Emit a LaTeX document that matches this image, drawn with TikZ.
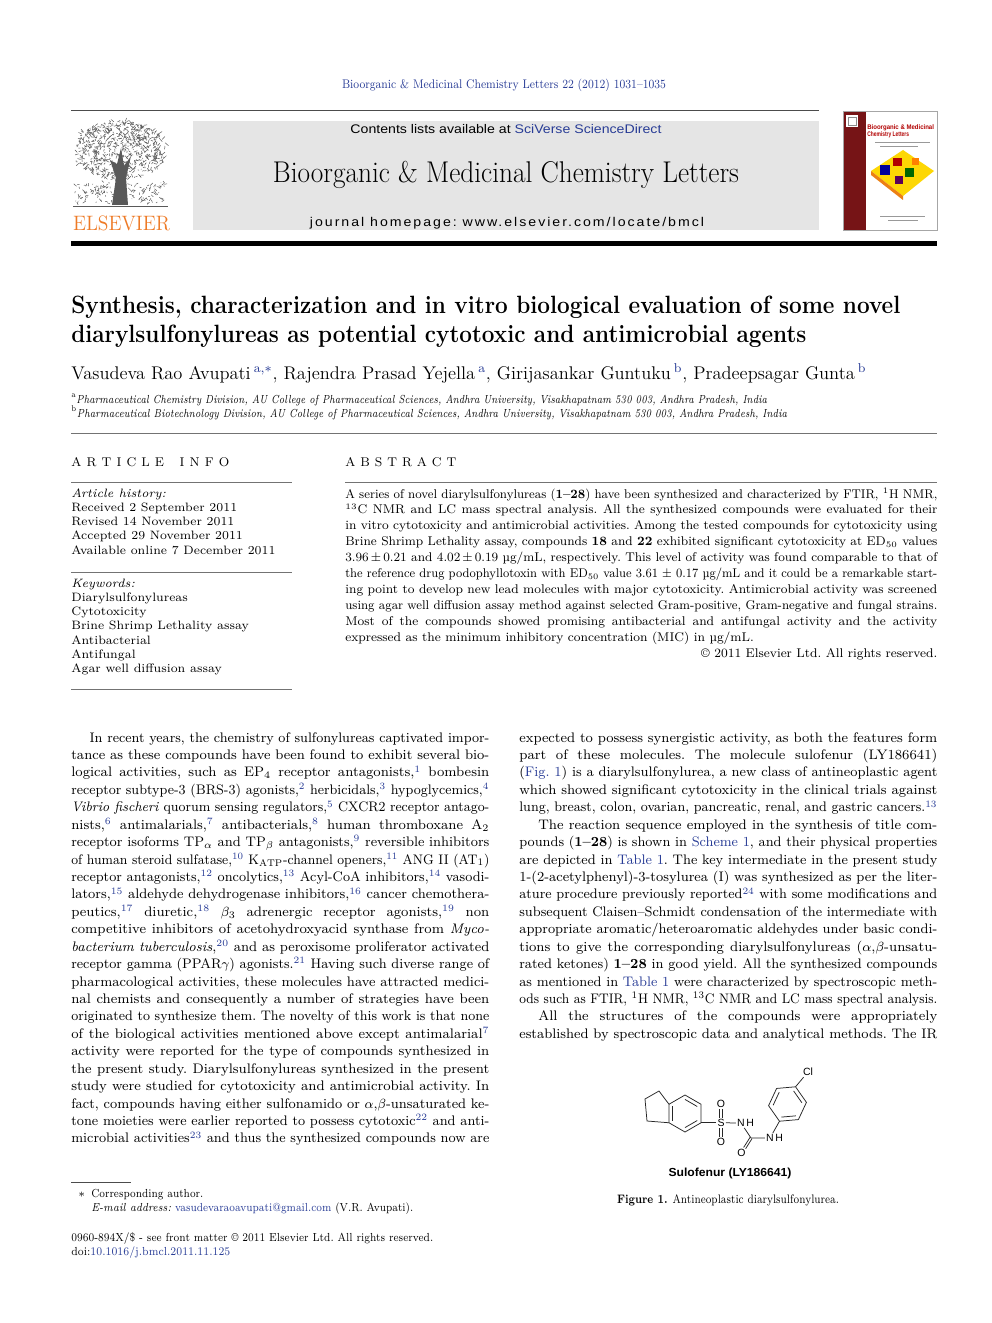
\documentclass[tikz,border=0pt]{standalone}
\usepackage{fontspec}
\usepackage{graphicx}
\usetikzlibrary{calc}
\newfontfamily\sansf{Liberation Sans}
\newfontfamily\hpfont[LetterSpace=14]{Liberation Sans}
\definecolor{linkblue}{RGB}{40,60,150}
\definecolor{elsorange}{RGB}{238,122,38}
\definecolor{boxgray}{RGB}{229,229,229}
\definecolor{coverred}{RGB}{118,20,22}
\newsavebox\linebox
\newcommand\fitline[2]{\resizebox{#1}{\height}{#2}}
\newcommand\jline[1]{\sbox\linebox{#1}%
	\ifdim\wd\linebox>\hsize \hbox{\resizebox{\hsize}{\height}{\usebox\linebox}}%
	\else\hbox to\hsize{#1}\fi}
\newcommand\lline[1]{\hbox to\hsize{#1\hfil}}
\newcommand\rf[1]{\textsuperscript{\textcolor{linkblue}{#1}}}
\newcommand\lnk[1]{\textcolor{linkblue}{#1}}

\tikzset{
  txt/.style={inner sep=0pt, anchor=base west},
  ctxt/.style={inner sep=0pt, anchor=base},
  rule/.style={line width=0.5pt, black!55},
  treeline/.style={line width=0.3pt, black!65},
  bond/.style={line width=0.45pt, black!85},
  atom/.style={inner sep=0.6pt, font=\sansf\fontsize{6.3}{7}\selectfont},
}

\begin{document}
\frenchspacing
\begin{tikzpicture}[x=0.6pt,y=-0.6pt]
	\useasboundingbox (0,0) rectangle (992,1323);
	\fill[white] (0,0) rectangle (992,1323);
	
	%journal line
	\node[ctxt, text=linkblue] (jref) at (504,89) {\fitline{194.4pt}{\fontsize{7.5}{9}\selectfont Bioorganic \& Medicinal Chemistry Letters 22 (2012) 1031--1035}};
	\draw[line width=0.6pt, black!70] (71,111) -- (819,111);
	
	%header box
	\fill[boxgray] (193,121) rectangle (819,230);
	\node[ctxt] (contents) at (506,134) {\fitline{186.6pt}{\sansf\fontsize{7.5}{9}\selectfont Contents lists available at \lnk{SciVerse ScienceDirect}}};
	\node[ctxt] (jname) at (506,182) {\fitline{279.6pt}{\fontsize{18}{20}\selectfont Bioorganic \& Medicinal Chemistry Letters}};
	\node[ctxt] (homepage) at (507,226) {\fitline{236.4pt}{\hpfont\fontsize{7.6}{9}\selectfont journal homepage: www.elsevier.com/locate/bmcl}};
	
	%elsevier tree
	\pgfmathsetseed{12}
	\foreach \i in {1,...,700}{
		\pgfmathsetmacro\ta{rnd*360}
		\pgfmathsetmacro\tr{sqrt(rnd)}
		\draw[treeline] ({120+47*\tr*cos(\ta)},{150+29*\tr*sin(\ta)}) -- ++({rand*3.5},{rand*3.5});
	}
	\foreach \i in {1,...,160}{
		\draw[treeline] ({75+90*rnd},{182+22*rnd}) -- ++({rand*3},{rand*3});
	}
	\fill[black!65] (112,205) -- (116,178) -- (110,160) -- (117,164) -- (121,148) -- (124,166) -- (131,156) -- (126,178) -- (128,205) -- cycle;
	\draw[treeline, line width=0.5pt] (73,206) -- (168,206);
	\node[ctxt, text=elsorange] (elsevier) at (121.5,230) {\fitline{58.2pt}{\fontsize{12.5}{13}\selectfont ELSEVIER}};
	
	%cover
	\fill[coverred] (843,111) rectangle (866,230);
	\draw[black!35, line width=0.4pt] (843,111) rectangle (937,230);
	\fill[white] (846,115) rectangle (858,127);
	\draw[black!45, line width=0.3pt] (848,117) rectangle (856,125);
	\node[txt, text=red!70!black] (covt1) at (867,130) {\fitline{40pt}{\sansf\bfseries\fontsize{4}{5}\selectfont Bioorganic \& Medicinal}};
	\node[txt, text=red!70!black] (covt2) at (867,137) {\fitline{25pt}{\sansf\bfseries\fontsize{4}{5}\selectfont Chemistry Letters}};
	\draw[black!40, line width=0.3pt] (875,142) -- (930,142) (880,146) -- (918,146);
	\fill[yellow!75!orange] (871,171) -- (903,150) -- (934,171) -- (903,196) -- cycle;
	\fill[orange!70!brown] (871,171) -- (903,196) -- (903,200) -- (871,175) -- cycle;
	\fill[blue!60!black] (880,165) rectangle (890,175);
	\fill[red!70!black] (893,158) rectangle (902,166);
	\fill[green!40!black] (905,168) rectangle (914,177);
	\fill[violet!70!black] (895,176) rectangle (903,184);
	\fill[orange] (912,158) rectangle (919,165);
	\draw[black!40, line width=0.3pt] (880,216) -- (925,216) (888,220) -- (918,220);
	
	\fill[black] (71,241) rectangle (937,246);
	
	%title and authors
	\node[txt] (title1) at (71,313) {\fitline{497.4pt}{\bfseries\fontsize{15}{17}\selectfont Synthesis, characterization and in vitro biological evaluation of some novel}};
	\node[txt] (title2) at (71,342) {\fitline{441pt}{\bfseries\fontsize{15}{17}\selectfont diarylsulfonylureas as potential cytotoxic and antimicrobial agents}};
	\node[txt] (authors) at (71,379) {\fitline{477pt}{\fontsize{11}{13}\selectfont Vasudeva Rao Avupati\,$^{\lnk{\mathrm{a},*}}$, Rajendra Prasad Yejella\,$^{\lnk{\mathrm{a}}}$, Girijasankar Guntuku\,$^{\lnk{\mathrm{b}}}$, Pradeepsagar Gunta\,$^{\lnk{\mathrm{b}}}$}};
	\node[txt] (affa) at (71,403) {\fitline{417.6pt}{\fontsize{7}{8}\selectfont $^{\mathrm{a}}$\textit{Pharmaceutical Chemistry Division, AU College of Pharmaceutical Sciences, Andhra University, Visakhapatnam 530 003, Andhra Pradesh, India}}};
	\node[txt] (affb) at (71,417) {\fitline{429.6pt}{\fontsize{7}{8}\selectfont $^{\mathrm{b}}$\textit{Pharmaceutical Biotechnology Division, AU College of Pharmaceutical Sciences, Andhra University, Visakhapatnam 530 003, Andhra Pradesh, India}}};
	\draw[rule] (71,433) -- (937,433);
	
	%article info
	\node[txt] (infohead) at (71,466) {\hbox to 94.8pt{\fontsize{7.6}{9}\selectfont A\hfil R\hfil T\hfil I\hfil C\hfil L\hfil E\hfil\hfil\hfil I\hfil N\hfil F\hfil O}};
	\node[txt] (abshead) at (345,466) {\hbox to 66.6pt{\fontsize{7.6}{9}\selectfont A\hfil B\hfil S\hfil T\hfil R\hfil A\hfil C\hfil T}};
	\draw[rule] (71,482) -- (292,482);
	\draw[rule] (71,572) -- (292,572);
	\draw[rule] (71,689) -- (292,689);
	\draw[rule] (345,482) -- (937,482);
	\node[txt] (history) at (71,497) {\vtop{\fontsize{7.3}{8.55}\selectfont
		\hbox{\textit{Article history:}}
		\hbox{Received 2 September 2011}
		\hbox{Revised 14 November 2011}
		\hbox{Accepted 29 November 2011}
		\hbox{Available online 7 December 2011}}};
	\node[txt] (keywords) at (71,587) {\vtop{\fontsize{7.3}{8.55}\selectfont
		\hbox{\textit{Keywords:}}
		\hbox{Diarylsulfonylureas}
		\hbox{Cytotoxicity}
		\hbox{Brine Shrimp Lethality assay}
		\hbox{Antibacterial}
		\hbox{Antifungal}
		\hbox{Agar well diffusion assay}}};
	
	%abstract
	\node[txt] (abstract) at (345,498) {\vtop{\hsize=355.2pt\fontsize{7.6}{9.55}\selectfont
		\jline{A series of novel diarylsulfonylureas (\textbf{1--28}) have been synthesized and characterized by FTIR, $^1$H NMR,}
		\jline{$^{13}$C NMR and LC mass spectral analysis. All the synthesized compounds were evaluated for their}
		\jline{in vitro cytotoxicity and antimicrobial activities. Among the tested compounds for cytotoxicity using}
		\jline{Brine Shrimp Lethality assay, compounds \textbf{18} and \textbf{22} exhibited significant cytotoxicity at ED$_{50}$ values}
		\jline{3.96\,±\,0.21 and 4.02\,±\,0.19 µg/mL, respectively. This level of activity was found comparable to that of}
		\jline{the reference drug podophyllotoxin with ED$_{50}$ value 3.61 ± 0.17 µg/mL and it could be a remarkable start-}
		\jline{ing point to develop new lead molecules with major cytotoxicity. Antimicrobial activity was screened}
		\jline{using agar well diffusion assay method against selected Gram-positive, Gram-negative and fungal strains.}
		\jline{Most of the compounds showed promising antibacterial and antifungal activity and the activity}
		\lline{expressed as the minimum inhibitory concentration (MIC) in µg/mL.}
		\hbox to\hsize{\hfil © 2011 Elsevier Ltd. All rights reserved.}}};
	
	%body, left column
	\node[txt] (col1) at (71,742) {\vtop{\hsize=250.8pt\fontsize{8.3}{10.46}\selectfont
		\jline{\hspace*{11.4pt}In recent years, the chemistry of sulfonylureas captivated impor-}
		\jline{tance as these compounds have been found to exhibit several bio-}
		\jline{logical activities, such as EP$_4$ receptor antagonists,\rf{1} bombesin}
		\jline{receptor subtype-3 (BRS-3) agonists,\rf{2} herbicidals,\rf{3} hypoglycemics,\rf{4}}
		\jline{\textit{Vibrio fischeri} quorum sensing regulators,\rf{5} CXCR2 receptor antago-}
		\jline{nists,\rf{6} antimalarials,\rf{7} antibacterials,\rf{8} human thromboxane A$_2$}
		\jline{receptor isoforms TP$_\alpha$ and TP$_\beta$ antagonists,\rf{9} reversible inhibitors}
		\jline{of human steroid sulfatase,\rf{10} K$_{\mathrm{ATP}}$-channel openers,\rf{11} ANG II (AT$_1$)}
		\jline{receptor antagonists,\rf{12} oncolytics,\rf{13} Acyl-CoA inhibitors,\rf{14} vasodi-}
		\jline{lators,\rf{15} aldehyde dehydrogenase inhibitors,\rf{16} cancer chemothera-}
		\jline{peutics,\rf{17} diuretic,\rf{18} $\beta_3$ adrenergic receptor agonists,\rf{19} non}
		\jline{competitive inhibitors of acetohydroxyacid synthase from \textit{Myco-}}
		\jline{\textit{bacterium tuberculosis},\rf{20} and as peroxisome proliferator activated}
		\jline{receptor gamma (PPAR$\gamma$) agonists.\rf{21} Having such diverse range of}
		\jline{pharmacological activities, these molecules have attracted medici-}
		\jline{nal chemists and consequently a number of strategies have been}
		\jline{originated to synthesize them. The novelty of this work is that none}
		\jline{of the biological activities mentioned above except antimalarial\rf{7}}
		\jline{activity were reported for the type of compounds synthesized in}
		\jline{the present study. Diarylsulfonylureas synthesized in the present}
		\jline{study were studied for cytotoxicity and antimicrobial activity. In}
		\jline{fact, compounds having either sulfonamido or $\alpha$,$\beta$-unsaturated ke-}
		\jline{tone moieties were earlier reported to possess cytotoxic\rf{22} and anti-}
		\jline{microbial activities\rf{23} and thus the synthesized compounds now are}}};
	
	%body, right column
	\node[txt] (col2) at (519,742) {\vtop{\hsize=250.8pt\fontsize{8.3}{10.46}\selectfont
		\jline{expected to possess synergistic activity, as both the features form}
		\jline{part of these molecules. The molecule sulofenur (LY186641)}
		\jline{(\lnk{Fig. 1}) is a diarylsulfonylurea, a new class of antineoplastic agent}
		\jline{which showed significant cytotoxicity in the clinical trials against}
		\jline{lung, breast, colon, ovarian, pancreatic, renal, and gastric cancers.\rf{13}}
		\jline{\hspace*{11.4pt}The reaction sequence employed in the synthesis of title com-}
		\jline{pounds (\textbf{1--28}) is shown in \lnk{Scheme 1}, and their physical properties}
		\jline{are depicted in \lnk{Table 1}. The key intermediate in the present study}
		\jline{1-(2-acetylphenyl)-3-tosylurea (I) was synthesized as per the liter-}
		\jline{ature procedure previously reported\rf{24} with some modifications and}
		\jline{subsequent Claisen--Schmidt condensation of the intermediate with}
		\jline{appropriate aromatic/heteroaromatic aldehydes under basic condi-}
		\jline{tions to give the corresponding diarylsulfonylureas ($\alpha$,$\beta$-unsatu-}
		\jline{rated ketones) \textbf{1--28} in good yield. All the synthesized compounds}
		\jline{as mentioned in \lnk{Table 1} were characterized by spectroscopic meth-}
		\jline{ods such as FTIR, $^1$H NMR, $^{13}$C NMR and LC mass spectral analysis.}
		\jline{\hspace*{11.4pt}All the structures of the compounds were appropriately}
		\jline{established by spectroscopic data and analytical methods. The IR}}};
	
	%figure 1
	\coordinate (bc) at (685,1113.5);
	\coordinate (pc) at (787.5,1104);
	\foreach \k/\t in {1/90,2/30,3/-30,4/-90,5/-150,6/150}
		\coordinate (b\k) at ($(bc)+(-\t:18.5)$);
	\foreach \k/\t in {1/65,2/125,3/185,4/245,5/305,6/5}
		\coordinate (r\k) at ($(pc)+(-\t:19)$);
	\coordinate (p2) at (659,1091);
	\coordinate (p3) at (645,1099);
	\coordinate (p4) at (647,1121);
	\draw[bond] (b1) -- (b2) -- (b3) -- (b4) -- (b5) -- (b6) -- cycle;
	\draw[bond] (b6) -- (p2) -- (p3) -- (p4) -- (b5);
	\draw[bond] (r1) -- (r2) -- (r3) -- (r4) -- (r5) -- (r6) -- cycle;
	\foreach \u/\v in {b1/b2,b3/b4,b5/b6}
		\draw[bond] ($(bc)!0.76!(\u)$) -- ($(bc)!0.76!(\v)$);
	\foreach \u/\v in {r2/r3,r4/r5,r6/r1}
		\draw[bond] ($(pc)!0.76!(\u)$) -- ($(pc)!0.76!(\v)$);
	\node[atom] (s) at (721,1122.75) {S};
	\node[atom] (o1) at (721,1103.5) {O};
	\node[atom] (o2) at (721,1142) {O};
	\node[atom] (n1) at (741,1123) {N};
	\node[atom, anchor=west, inner sep=0pt] (h1) at (n1.east) {H};
	\coordinate (c1) at (751,1138);
	\node[atom] (n2) at (770,1138) {N};
	\node[atom, anchor=west, inner sep=0pt] (h2) at (n2.east) {H};
	\node[atom] (o3) at (741.5,1153) {O};
	\node[atom] (cl) at (808,1072) {Cl};
	\draw[bond] (b3) -- (s);
	\draw[bond] (s) -- (n1);
	\draw[bond] (n1) -- (c1) -- (n2);
	\draw[bond] (n2) -- (r4);
	\draw[bond] (r1) -- (cl);
	\draw[bond] ([xshift=-0.7pt]s.north) -- ([xshift=-0.7pt]o1.south);
	\draw[bond] ([xshift=0.7pt]s.north) -- ([xshift=0.7pt]o1.south);
	\draw[bond] ([xshift=-0.7pt]s.south) -- ([xshift=-0.7pt]o2.north);
	\draw[bond] ([xshift=0.7pt]s.south) -- ([xshift=0.7pt]o2.north);
	\coordinate (o3b) at ($(o3)!3.5pt!(c1)$);
	\draw[bond] ($(c1)!0.7pt!90:(o3b)$) -- ($(o3b)!0.7pt!-90:(c1)$);
	\draw[bond] ($(c1)!0.7pt!-90:(o3b)$) -- ($(o3b)!0.7pt!90:(c1)$);
	\node[ctxt] (drug) at (730,1176) {\fitline{73.8pt}{\sansf\bfseries\fontsize{7}{8}\selectfont Sulofenur (LY186641)}};
	\node[ctxt] (caption) at (728,1203) {\fitline{133.2pt}{\fontsize{7.4}{9}\selectfont\textbf{Figure 1.}\enspace Antineoplastic diarylsulfonylurea.}};
	
	%footnotes
	\draw[line width=0.4pt, black!70] (71,1182) -- (131,1182);
	\node[txt] (star) at (78,1197) {\fontsize{7}{8}\selectfont $*$};
	\node[txt] (corr) at (91,1197) {\fitline{67.2pt}{\fontsize{7}{8}\selectfont Corresponding author.}};
	\node[txt] (email) at (91,1211) {\fitline{193.2pt}{\fontsize{7}{8}\selectfont\textit{E-mail address:} \lnk{vasudevaraoavupati@gmail.com} (V.R. Avupati).}};
	\node[txt] (front) at (71,1241) {\fitline{217.2pt}{\fontsize{7}{8}\selectfont 0960-894X/\$ - see front matter © 2011 Elsevier Ltd. All rights reserved.}};
	\node[txt] (doi) at (71,1255) {\fitline{95.4pt}{\fontsize{7}{8}\selectfont doi:\lnk{10.1016/j.bmcl.2011.11.125}}};
\end{tikzpicture}
\end{document}
